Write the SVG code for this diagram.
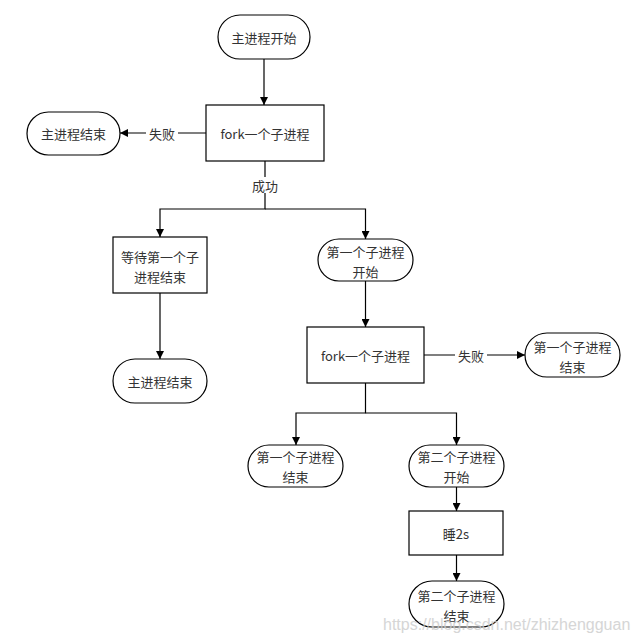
<svg xmlns="http://www.w3.org/2000/svg" width="636" height="642" viewBox="0 0 636 642">
<style>
.n{fill:#fff;stroke:#000;stroke-width:1.2}
.t{font-family:"Noto Sans CJK SC","Liberation Sans",sans-serif;font-size:13px;fill:#333;text-anchor:middle;dominant-baseline:central}
.c{fill:none;stroke:#000;stroke-width:1.2}
.l{font-family:"Noto Sans CJK SC","Liberation Sans",sans-serif;font-size:13px;fill:#333;text-anchor:middle;dominant-baseline:central}
</style>
<defs>
<marker id="a" viewBox="0 0 10 10" refX="10" refY="5" markerWidth="8" markerHeight="8" markerUnits="userSpaceOnUse" orient="auto">
<path d="M0,0 L10,5 L0,10 z" fill="#000"/>
</marker>
</defs>
<rect width="636" height="642" fill="#fff"/>
<g id="connectors">
<path class="c" d="M264,59 V105" marker-end="url(#a)"/>
<path class="c" d="M206,133 H120" marker-end="url(#a)"/>
<path class="c" d="M265,161 V209 H160 V237" marker-end="url(#a)"/>
<path class="c" d="M265,209 H365.5 V239" marker-end="url(#a)"/>
<path class="c" d="M160,293 V359" marker-end="url(#a)"/>
<path class="c" d="M365.5,281 V327" marker-end="url(#a)"/>
<path class="c" d="M424,355 H525" marker-end="url(#a)"/>
<path class="c" d="M365.5,383 V413 H296 V445" marker-end="url(#a)"/>
<path class="c" d="M365.5,413 H456.5 V445" marker-end="url(#a)"/>
<path class="c" d="M456.5,487 V511" marker-end="url(#a)"/>
<path class="c" d="M456.5,555 V581" marker-end="url(#a)"/>
<rect x="146" y="125" width="32" height="16" fill="#fff"/>
<text class="l" x="162" y="133">失败</text>
<rect x="249" y="177" width="32" height="16" fill="#fff"/>
<text class="l" x="265" y="185">成功</text>
<rect x="455" y="347" width="32" height="16" fill="#fff"/>
<text class="l" x="471" y="355">失败</text>
</g>
<g id="start">
<rect class="n" x="218" y="15" width="92" height="44" rx="22"/>
<text class="t" x="264" y="37">主进程开始</text>
</g>
<g id="fork1">
<rect class="n" x="206" y="105" width="118" height="56"/>
<text class="t" x="265" y="133">fork一个子进程</text>
</g>
<g id="mainEnd1">
<rect class="n" x="27" y="112" width="93" height="43" rx="21.5"/>
<text class="t" x="73.5" y="133.5">主进程结束</text>
</g>
<g id="wait">
<rect class="n" x="113" y="237" width="94" height="56"/>
<text class="t" x="160" y="256">等待第一个子</text>
<text class="t" x="160" y="276">进程结束</text>
</g>
<g id="child1Start">
<rect class="n" x="318" y="239" width="95" height="42" rx="21"/>
<text class="t" x="365.5" y="251">第一个子进程</text>
<text class="t" x="365.5" y="271">开始</text>
</g>
<g id="mainEnd2">
<rect class="n" x="113" y="359" width="94" height="44" rx="22"/>
<text class="t" x="160" y="381">主进程结束</text>
</g>
<g id="fork2">
<rect class="n" x="307" y="327" width="117" height="56"/>
<text class="t" x="365.5" y="355">fork一个子进程</text>
</g>
<g id="child1End1">
<rect class="n" x="525" y="333" width="95" height="44" rx="22"/>
<text class="t" x="572.5" y="346">第一个子进程</text>
<text class="t" x="572.5" y="366">结束</text>
</g>
<g id="child1End2">
<rect class="n" x="248" y="445" width="95" height="42" rx="21"/>
<text class="t" x="295.5" y="456">第一个子进程</text>
<text class="t" x="295.5" y="476">结束</text>
</g>
<g id="child2Start">
<rect class="n" x="409" y="445" width="95" height="42" rx="21"/>
<text class="t" x="456.5" y="456">第二个子进程</text>
<text class="t" x="456.5" y="476">开始</text>
</g>
<g id="sleep">
<rect class="n" x="409" y="511" width="94" height="44"/>
<text class="t" x="456" y="533">睡2s</text>
</g>
<g id="child2End">
<rect class="n" x="409" y="581" width="95" height="46" rx="23"/>
<text class="t" x="456.5" y="595">第二个子进程</text>
<text class="t" x="456.5" y="615">结束</text>
</g>
<text x="383" y="630" font-family="Liberation Sans, sans-serif" font-size="16" fill="#ccc" opacity="0.8">https://blog.csdn.net/zhizhengguan</text>
</svg>
